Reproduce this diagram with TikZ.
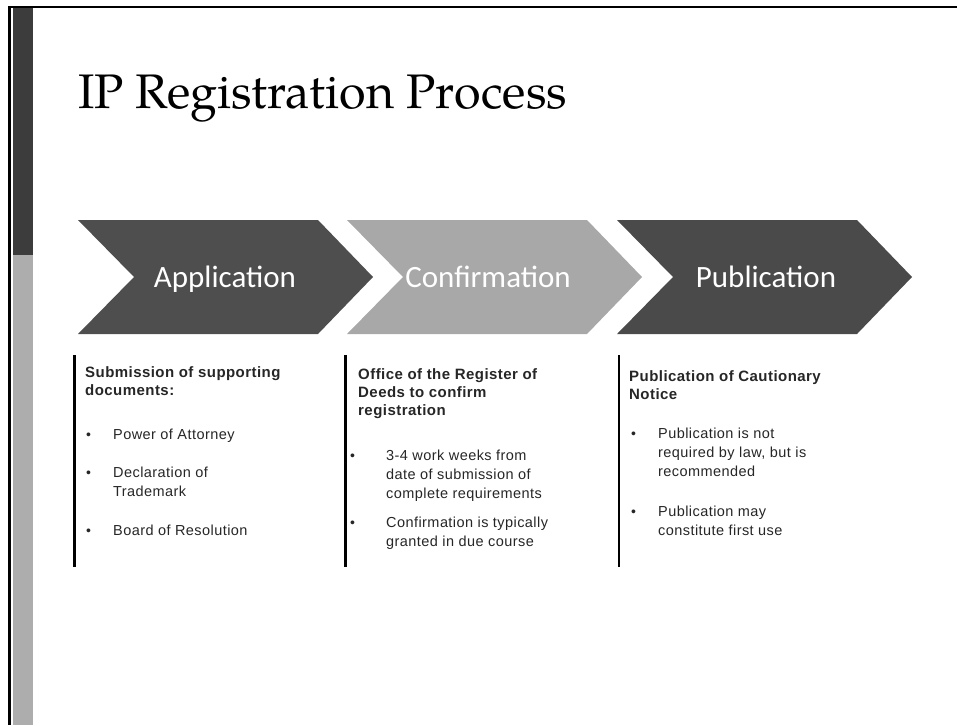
\documentclass[tikz,border=0pt]{standalone}
\usepackage{fontspec}
\setmainfont{Liberation Sans}
\newfontfamily\calibri{Carlito}
\newfontfamily\titlefnt{texgyrepagella-regular.otf}
\newfontfamily\bodyfnt[LetterSpace=3]{Liberation Sans}
\newfontfamily\headfnt[LetterSpace=3,FakeBold=0]{Liberation Sans Bold}
\definecolor{chevdark}{HTML}{4E4E4E}
\definecolor{chevlight}{HTML}{A8A8A8}
\definecolor{chevpub}{HTML}{4A4A4A}
\definecolor{stripdark}{HTML}{3C3C3C}
\definecolor{striplight}{HTML}{ADADAD}
\definecolor{bodytext}{HTML}{262626}
\tikzset{
  chevlabel/.style={text=white, font=\calibri\fontsize{31}{36}\selectfont, inner sep=0pt, anchor=base},
  colbar/.style={line width=2.4pt, draw=black},
  headtxt/.style={font=\headfnt\fontsize{15}{18.3}\selectfont, text=bodytext, inner sep=0pt, anchor=base west},
  itemtxt/.style={font=\bodyfnt\fontsize{14.5}{19}\selectfont, text=bodytext, inner sep=0pt, anchor=base west},
  bulletdot/.style={font=\fontsize{14}{19}\selectfont, text=bodytext, inner sep=0pt, anchor=base west},
}
\newcommand\tl[1]{\begin{tabular}[t]{@{}l@{}}#1\end{tabular}}
\begin{document}
\begin{tikzpicture}[x=1pt,y=-1pt]
\useasboundingbox (0,0) rectangle (957,725);
% left strip and frame
\fill[stripdark] (13,8) rectangle (33,255);
\fill[striplight] (13,255) rectangle (33,725);
\draw[line width=3pt] (9.5,6) -- (9.5,725);
\draw[line width=2.5pt] (8,7) -- (957,7);
% title
\node[anchor=base west, inner sep=0pt, font=\titlefnt\fontsize{48.5}{56}\selectfont] (title) at (78,108) {IP Registration Process};
% chevrons
\fill[chevdark] (78,220) -- (318,220) -- (373,277) -- (318,334) -- (78,334) -- (134,277) -- cycle;
\fill[chevlight] (347,220) -- (587,220) -- (642,277) -- (587,334) -- (347,334) -- (403,277) -- cycle;
\fill[chevpub] (617,220) -- (857,220) -- (912,277) -- (857,334) -- (617,334) -- (673,277) -- cycle;
\node[chevlabel] (lapp) at (225,287) {Application};
\node[chevlabel] (lconf) at (488,287) {Confirmation};
\node[chevlabel] (lpub) at (766,287) {Publication};
% column bars
\draw[colbar] (74.5,355) -- (74.5,567);
\draw[colbar] (345.5,355) -- (345.5,567);
\draw[colbar] (619,355) -- (619,567);
% column 1
\node[headtxt] (h1) at (85,377) {\tl{Submission of supporting\\documents:}};
\node[bulletdot] (b11) at (86,439) {•};
\node[itemtxt] (t11) at (113,439) {\tl{Power of Attorney}};
\node[bulletdot] (b12) at (86,477) {•};
\node[itemtxt] (t12) at (113,477) {\tl{Declaration of\\Trademark}};
\node[bulletdot] (b13) at (86,535) {•};
\node[itemtxt] (t13) at (113,535) {\tl{Board of Resolution}};
% column 2
\node[headtxt] (h2) at (358,379) {\tl{Office of the Register of\\Deeds to confirm\\registration}};
\node[bulletdot] (b21) at (350,460) {•};
\node[itemtxt] (t21) at (386,460) {\tl{3-4 work weeks from\\date of submission of\\complete requirements}};
\node[bulletdot] (b22) at (350,527) {•};
\node[itemtxt] (t22) at (386,527) {\tl{Confirmation is typically\\granted in due course}};
% column 3
\node[headtxt] (h3) at (629,381) {\tl{Publication of Cautionary\\Notice}};
\node[bulletdot] (b31) at (631,438) {•};
\node[itemtxt] (t31) at (658,438) {\tl{Publication is not\\required by law, but is\\recommended}};
\node[bulletdot] (b32) at (631,516) {•};
\node[itemtxt] (t32) at (658,516) {\tl{Publication may\\constitute first use}};
\end{tikzpicture}
\end{document}
